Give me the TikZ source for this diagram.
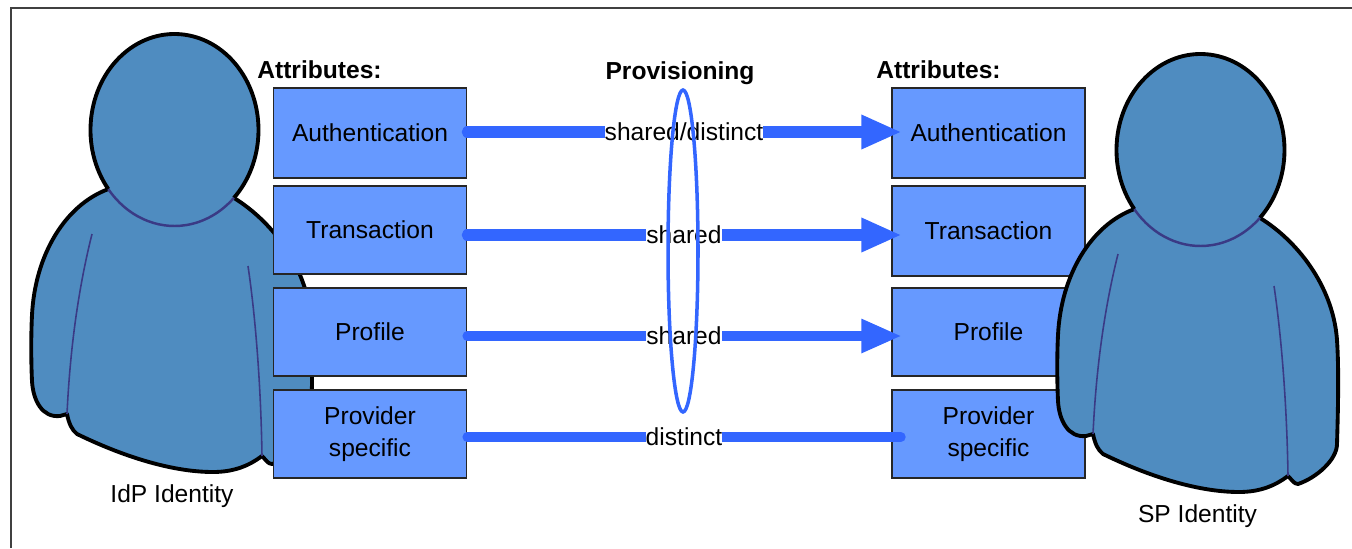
\documentclass[tikz,border=0pt]{standalone}
\usepackage{fontspec}
\setmainfont{Liberation Sans}
\usetikzlibrary{arrows.meta,shapes.geometric}
\definecolor{personblue}{HTML}{4F8CC0}
\definecolor{personline}{HTML}{3A3A85}
\definecolor{boxblue}{HTML}{6699FF}
\definecolor{flowblue}{HTML}{3366FF}
\tikzset{
  txt/.style={font=\fontsize{14}{18}\selectfont, inner sep=0pt, align=center},
  titletxt/.style={txt, font=\fontsize{14}{18}\selectfont\bfseries},
  attrbox/.style={txt, draw=black!85, line width=0.9pt, fill=boxblue, minimum width=3.86cm, minimum height=1.76cm},
  flowlabel/.style={txt, fill=white, inner ysep=1pt},
  flowline/.style={draw=flowblue, line width=6.3pt, line cap=round},
  flowarrow/.style={flowline, -{Triangle[length=23pt,width=18pt]}, shorten >=-6pt},
  personfig/.pic={
    \draw [fill=personblue, line width=2.2pt, line join=round] (108.3,189.1) %
    .. controls (65,205) and (35,255) .. (32,315) %
    .. controls (31,335) and (31,360) .. (32,381) %
    .. controls (33,400) and (42,418) .. (60,416) -- (67,414) %
    .. controls (69,424) and (72,430) .. (77,434) %
    .. controls (120,455) and (170,472) .. (213,472) %
    .. controls (235,472) and (250,465) .. (262,456) %
    .. controls (266,460) and (268,464) .. (272,464) %
    .. controls (290,458) and (311,440) .. (311,424) %
    .. controls (312,390) and (313,350) .. (311,320) %
    .. controls (307,265) and (270,220) .. (233.9,197.9);
    \fill [personblue] (174.5,130) ellipse [x radius=84, y radius=96];
    \draw [line width=2.2pt] (108.3,189.1) arc [start angle=142, end angle=405, x radius=84, y radius=96];
    \draw [personline, line width=1.4pt] (108.3,189.1) arc [start angle=142, end angle=45, x radius=84, y radius=96];
    \draw [personline, line width=0.9pt] (92,234) .. controls (78,290) and (70,350) .. (67,414);
    \draw [personline, line width=0.9pt] (248,266) .. controls (256,320) and (261,390) .. (262,456);
  }
}
\begin{document}
\begin{tikzpicture}[x=0.02cm, y=-0.02cm]
  \useasboundingbox (0,0) rectangle (1352,548);
  \draw [black!75, line width=1pt] (11,548) -- (11,8) -- (1352,8);

  \pic at (0,0) {personfig};
  \node [txt] (idpname) at (172,496) {IdP Identity};

  % attribute boxes
  \node [titletxt] (attrleft) at (319.5,70) {Attributes:};
  \node [attrbox, minimum height=1.8cm] (authleft) at (370,133) {Authentication};
  \node [attrbox] (transleft) at (370,230) {Transaction};
  \node [attrbox] (profleft) at (370,332) {Profile};
  \node [attrbox] (provleft) at (370,434) {Provider\\specific};

  \node [titletxt] (attrright) at (938.5,70) {Attributes:};
  \node [attrbox, minimum height=1.8cm] (authright) at (988.5,133) {Authentication};
  \node [attrbox, minimum height=1.8cm] (transright) at (988.5,231) {Transaction};
  \node [attrbox] (profright) at (988.5,332) {Profile};
  \node [attrbox] (provright) at (988.5,434) {Provider\\specific};

  \pic at (1026,20) {personfig};
  \node [txt] (spname) at (1197.5,516) {SP Identity};

  % provisioning
  \node [titletxt] (provtitle) at (680,73) {Provisioning};
  \coordinate (rowa) at (684,132);
  \coordinate (rowb) at (684,235);
  \coordinate (rowc) at (684,336);
  \coordinate (rowd) at (684,437);
  \draw [flowarrow] (authleft.east |- rowa) -- (authright.west |- rowa);
  \draw [flowarrow] (transleft.east |- rowb) -- (transright.west |- rowb);
  \draw [flowarrow, line width=5.5pt] (profleft.east |- rowc) -- (profright.west |- rowc);
  \draw [flowline, line width=5.5pt, shorten >=-5.5pt] (provleft.east |- rowd) -- (provright.west |- rowd);
  \node [flowlabel] (labela) at (rowa) {shared/distinct};
  \node [flowlabel] (labelb) at (rowb) {shared};
  \node [flowlabel] (labelc) at (rowc) {shared};
  \node [flowlabel] (labeld) at (rowd) {distinct};
  \node [ellipse, draw=flowblue, line width=2pt, inner sep=0pt, minimum width=0.6cm, minimum height=6.44cm] (provset) at (683,251) {};
\end{tikzpicture}
\end{document}
